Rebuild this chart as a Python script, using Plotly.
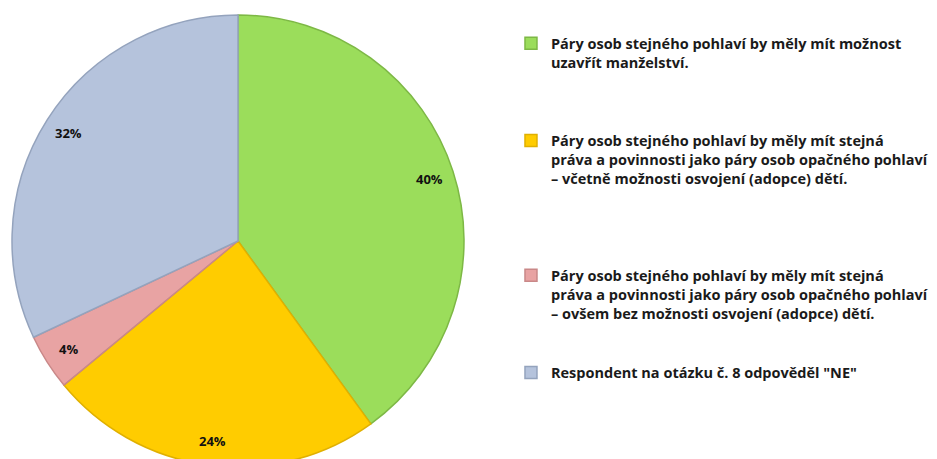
import math
import plotly.graph_objects as go

labels = [
    "Páry osob stejného pohlaví by měly mít možnost<br>uzavřít manželství.",
    "Páry osob stejného pohlaví by měly mít stejná<br>práva a povinnosti jako páry osob opačného pohlaví<br>– včetně možnosti osvojení (adopce) dětí.",
    "Páry osob stejného pohlaví by měly mít stejná<br>práva a povinnosti jako páry osob opačného pohlaví<br>– ovšem bez možnosti osvojení (adopce) dětí.",
    "Respondent na otázku č. 8 odpověděl \"NE\"",
]
values = [40, 24, 4, 32]
colors = ["#9BDD5B", "#FFCC00", "#E8A3A3", "#B5C3DC"]
edges = ["#7DB845", "#E0B000", "#C98888", "#94A3BD"]
# blank lines appended after each legend entry to space them out
pad_lines = [3, 4, 2, 0]

W, H = 937, 459
ML, MR, MT, MB = 0, 0, 7, 0
pw, ph = W - ML - MR, H - MT - MB
R = ph / 2
cx_px = 230
dom_x = [(cx_px - R) / pw, (cx_px + R) / pw]

legend_text = [lab + "<br> " * n for lab, n in zip(labels, pad_lines)]

fig = go.Figure()
fig.add_trace(go.Pie(
    labels=legend_text,
    values=values,
    sort=False,
    direction="clockwise",
    rotation=0,
    marker=dict(colors=colors, line=dict(color=edges, width=1.5)),
    textinfo="none",
    hoverinfo="label+percent",
    domain=dict(x=dom_x, y=[0, 1]),
))

# percentage labels near the rim, like the original
total = sum(values)
cum = 0
cx = sum(dom_x) / 2
for v in values:
    mid = (cum + v / 2) / total
    cum += v
    ang = math.radians(90 - 360 * mid)
    r = 0.89 * R
    fig.add_annotation(
        x=cx + r * math.cos(ang) / pw,
        y=0.5 + r * math.sin(ang) / ph,
        xref="paper", yref="paper",
        xanchor="center", yanchor="middle",
        text=f"{round(100 * v / total)}%",
        showarrow=False,
        font=dict(family="Open Sans", size=13, color="#111111", weight="bold"),
    )

fig.update_layout(
    width=W, height=H,
    margin=dict(l=ML, r=MR, t=MT, b=MB),
    paper_bgcolor="white",
    plot_bgcolor="white",
    legend=dict(
        x=0.5368, y=0.973, xanchor="left", yanchor="top",
        valign="top",
        font=dict(family="Open Sans", size=14.5, color="#1a1a1a", weight="bold"),
        bgcolor="rgba(0,0,0,0)",
    ),
)

fig.write_html("out.html")
